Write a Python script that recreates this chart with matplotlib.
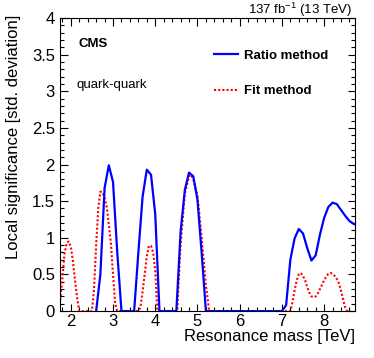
import numpy as np
import matplotlib
matplotlib.use('Agg')
import matplotlib.pyplot as plt
from matplotlib.ticker import MultipleLocator

plt.rcParams['font.family'] = ['Liberation Sans', 'DejaVu Sans']
plt.rcParams['mathtext.fontset'] = 'custom'
plt.rcParams['mathtext.rm'] = 'Liberation Sans'
plt.rcParams['mathtext.it'] = 'Liberation Sans:italic'
plt.rcParams['mathtext.bf'] = 'Liberation Sans:bold'

# Ratio method (blue, solid)
ratio_mass = [2.6, 2.7, 2.8, 2.9, 3.0, 3.1, 3.2, 3.3, 3.4, 3.5, 3.6, 3.7, 3.8, 3.9,
              4.0, 4.1, 4.2, 4.3, 4.4, 4.5, 4.6, 4.7, 4.8, 4.9, 5.0, 5.1, 5.2,
              5.5, 6.0, 6.5, 7.0, 7.1, 7.2, 7.3, 7.4, 7.5, 7.6, 7.7, 7.8, 7.9,
              8.0, 8.1, 8.2, 8.3, 8.4, 8.5, 8.6, 8.7, 8.75]
ratio_sig = [0.0, 0.5, 1.68, 1.99, 1.76, 0.8, 0.0, 0.0, 0.0, 0.0, 0.8, 1.56, 1.93, 1.86,
             1.32, 0.0, 0.0, 0.0, 0.0, 0.0, 1.08, 1.65, 1.89, 1.84, 1.52, 0.79, 0.0,
             0.0, 0.0, 0.0, 0.0, 0.08, 0.70, 0.99, 1.12, 1.06, 0.86, 0.69, 0.76, 1.04,
             1.27, 1.42, 1.48, 1.46, 1.38, 1.30, 1.23, 1.19, 1.18]

# Fit method (red, dotted)
fit_mass = [1.75, 1.8, 1.85, 1.9, 1.95, 2.0, 2.05, 2.1, 2.15, 2.2, 2.3, 2.4, 2.5,
            2.55, 2.6, 2.65, 2.7, 2.75, 2.8, 2.85, 2.9, 2.95, 3.0, 3.05, 3.1,
            3.6, 3.65, 3.7, 3.75, 3.8, 3.85, 3.9, 3.95, 4.0, 4.05,
            4.52, 4.6, 4.7, 4.8, 4.85, 4.9, 5.0, 5.1, 5.2, 5.28,
            6.0, 7.0, 7.2, 7.25, 7.3, 7.35, 7.4, 7.45, 7.5, 7.55, 7.6, 7.65, 7.7,
            7.75, 7.8, 7.85, 7.9, 7.95, 8.0, 8.05, 8.1, 8.15, 8.2, 8.25, 8.3, 8.35,
            8.4, 8.45, 8.5, 8.55, 8.62]
fit_sig = [0.15, 0.45, 0.78, 0.93, 0.95, 0.88, 0.68, 0.42, 0.18, 0.0, 0.0, 0.0, 0.0,
           0.3, 0.9, 1.4, 1.63, 1.62, 1.55, 1.42, 1.18, 0.92, 0.5, 0.1, 0.0,
           0.0, 0.05, 0.27, 0.5, 0.75, 0.89, 0.89, 0.8, 0.55, 0.0,
           0.0, 0.9, 1.6, 1.84, 1.86, 1.8, 1.58, 1.0, 0.35, 0.0,
           0.0, 0.0, 0.0, 0.12, 0.28, 0.42, 0.5, 0.52, 0.48, 0.42, 0.33, 0.25, 0.2,
           0.19, 0.2, 0.24, 0.3, 0.36, 0.42, 0.47, 0.51, 0.52, 0.51, 0.48, 0.44, 0.38,
           0.28, 0.16, 0.05, 0.0, 0.0]

fig = plt.figure(figsize=(3.74, 3.58), dpi=100)
ax = fig.add_axes([0.160, 0.131, 0.789, 0.819])

ax.plot(fit_mass, fit_sig, color='#ff0000', lw=1.5, ls=(0, (1, 1)),
        label='Fit method', zorder=2)
ax.plot(ratio_mass, ratio_sig, color='#0000ff', lw=1.6, label='Ratio method',
        zorder=3)

ax.set_xlim(1.74, 8.73)
ax.set_ylim(0, 4)
ax.xaxis.set_major_locator(MultipleLocator(1))
ax.xaxis.set_minor_locator(MultipleLocator(0.2))
ax.yaxis.set_major_locator(MultipleLocator(0.5))
ax.yaxis.set_minor_locator(MultipleLocator(0.1))
ax.tick_params(which='both', direction='in', top=True, right=True, width=0.8,
               labelsize=12)
ax.tick_params(which='major', length=5.4)
ax.tick_params(which='minor', length=2.9)
ax.tick_params(axis='x', pad=2)
ax.yaxis.set_major_formatter(plt.FuncFormatter(lambda v, p: f'{v:g}'))
for s in ax.spines.values():
    s.set_linewidth(0.8)

ax.set_xlabel('Resonance mass [TeV]', fontsize=12, loc='right')
ax.xaxis.set_label_coords(1.0, -0.06)
ax.set_ylabel('Local significance [std. deviation]', fontsize=12, loc='top')
ax.yaxis.set_label_coords(-0.13, 1.01)

ax.text(0.064, 0.912, 'CMS', transform=ax.transAxes, fontsize=9.5,
        fontweight='bold', va='center')
ax.text(0.058, 0.772, 'quark-quark', transform=ax.transAxes, fontsize=9.5,
        va='center')
ax.text(0.99, 0.996, r'137 fb$^{-1}$ (13 TeV)', transform=ax.transAxes,
        fontsize=9.5, ha='right', va='bottom')

h, l = ax.get_legend_handles_labels()
ax.legend(h[::-1], l[::-1], loc='upper left', bbox_to_anchor=(0.522, 0.892),
          frameon=False, prop={'weight': 'bold', 'size': 9.5},
          handlelength=1.85, handletextpad=0.45, labelspacing=1.75,
          borderpad=0, borderaxespad=0)

fig.savefig('out.png', dpi=100)
